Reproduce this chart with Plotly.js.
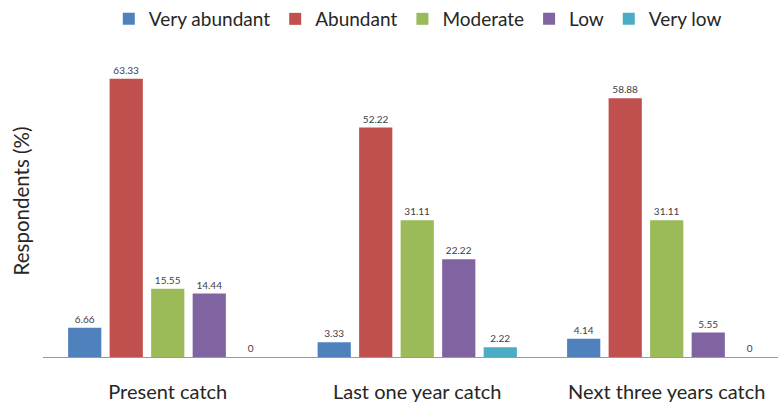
<!DOCTYPE html>
<html>
<head>
<meta charset="utf-8">
<script src="https://cdn.plot.ly/plotly-3.0.1.min.js"></script>
<style>html,body{margin:0;padding:0;background:#fff}#chart{width:778px;height:403px}</style>
</head>
<body>
<div id="chart"></div>
<script>
const categories = ["Present catch", "Last one year catch", "Next three years catch"];
const seriesNames = ["Very abundant", "Abundant", "Moderate", "Low", "Very low"];
const veryAbundant = [6.66, 3.33, 4.14];
const abundant = [63.33, 52.22, 58.88];
const moderate = [15.55, 31.11, 31.11];
const low = [14.44, 22.22, 5.55];
const veryLow = [0, 2.22, 0];
const colors = ["#4F81BD", "#C0504D", "#9BBB59", "#8064A2", "#4BACC6"];

const allValues = [veryAbundant, abundant, moderate, low, veryLow];
const traces = allValues.map((vals, i) => ({
  type: "bar",
  name: seriesNames[i],
  x: categories,
  y: vals,
  marker: {color: colors[i]},
  text: vals.map(v => String(v)),
  textposition: "outside",
  textfont: {size: 10, color: "#404040", family: "Lato, sans-serif"},
  cliponaxis: false,
  hoverinfo: "none"
}));

const layout = {
  width: 778, height: 403,
  margin: {l: 43, r: 0, t: 45, b: 46},
  paper_bgcolor: "#fff", plot_bgcolor: "#fff",
  font: {family: "Lato, sans-serif", color: "#262626"},
  barmode: "group",
  bargap: 0.168,
  bargroupgap: 0.2,
  showlegend: true,
  legend: {orientation: "h", xref: "container", yref: "container", x: 0.537, xanchor: "center", y: 1.0, yanchor: "top",
           font: {size: 19, color: "#262626"}, itemwidth: 30, traceorder: "normal"},
  xaxis: {
    range: [-0.5, 2.446],
    showline: true, linecolor: "#9a9a9a", linewidth: 1,
    ticks: "outside", ticklen: 17, tickcolor: "rgba(0,0,0,0)",
    tickfont: {size: 20, color: "#262626"},
    showgrid: false, zeroline: false, fixedrange: true,
    automargin: false
  },
  yaxis: {
    range: [0, 71],
    showticklabels: false, showgrid: false, zeroline: false, showline: false, ticks: "",
    title: {text: "Respondents (%)", font: {size: 20.5, color: "#262626"}, standoff: 6},
    automargin: false
  }
};

Plotly.newPlot("chart", traces, layout, {staticPlot: true, displayModeBar: false});
</script>
</body>
</html>
